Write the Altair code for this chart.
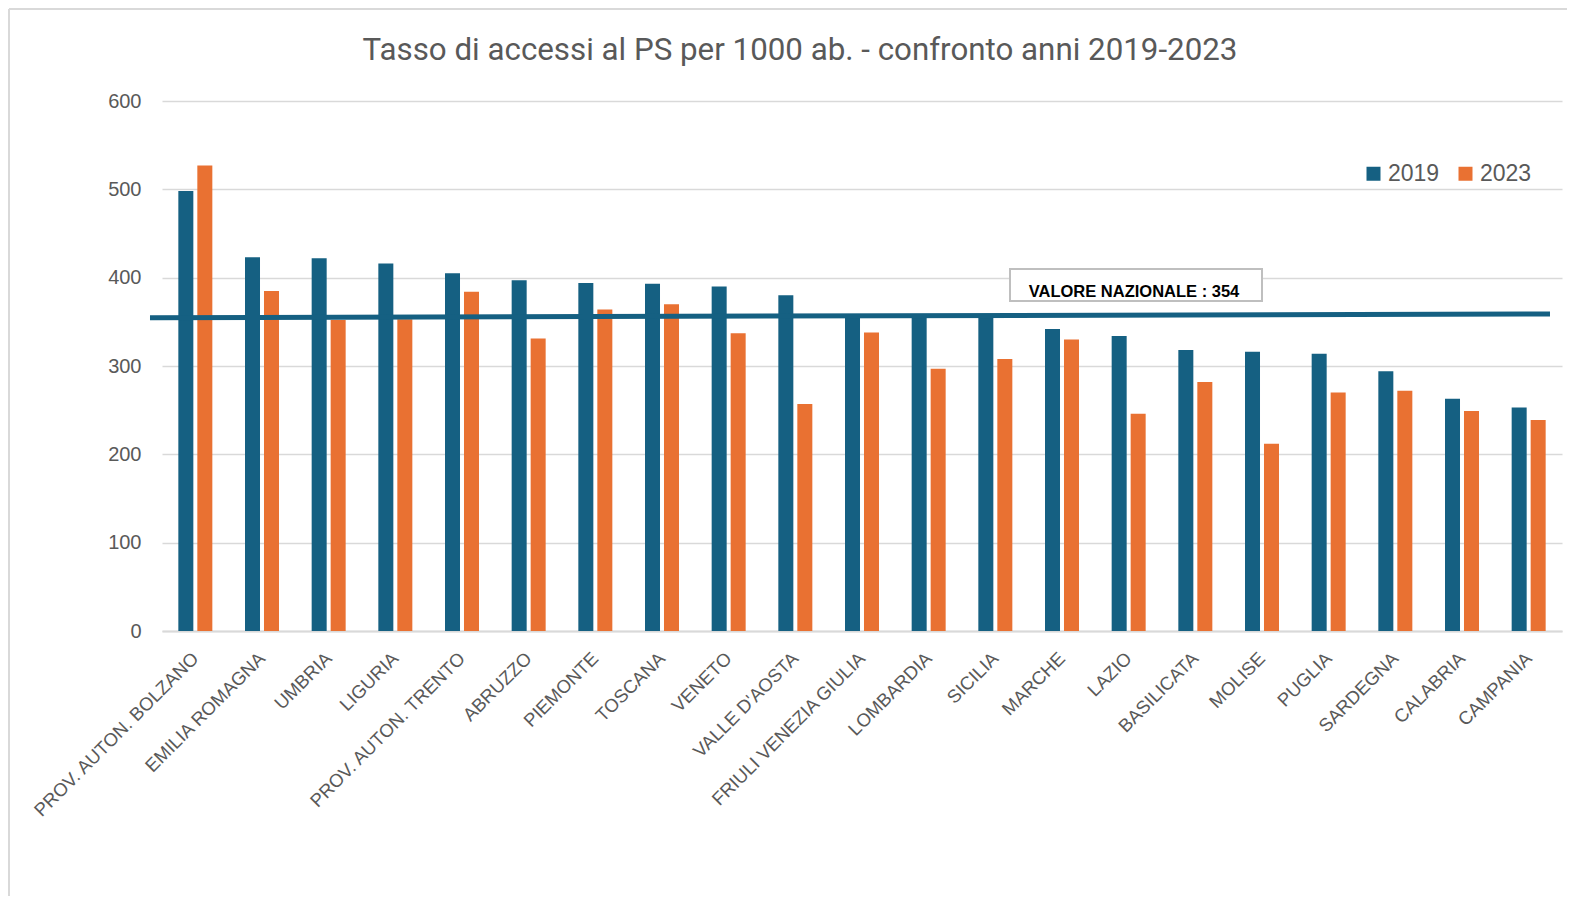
import altair as alt
import pandas as pd

regions = ["PROV. AUTON. BOLZANO", "EMILIA ROMAGNA", "UMBRIA", "LIGURIA",
           "PROV. AUTON. TRENTO", "ABRUZZO", "PIEMONTE", "TOSCANA", "VENETO",
           "VALLE D'AOSTA", "FRIULI VENEZIA GIULIA", "LOMBARDIA", "SICILIA",
           "MARCHE", "LAZIO", "BASILICATA", "MOLISE", "PUGLIA", "SARDEGNA",
           "CALABRIA", "CAMPANIA"]
v2019 = [498, 423, 422, 416, 405, 397, 394, 393, 390, 380, 356, 357, 357,
         342, 334, 318, 316, 314, 294, 263, 253]
v2023 = [527, 385, 352, 353, 384, 331, 364, 370, 337, 257, 338, 297, 308,
         330, 246, 282, 212, 270, 272, 249, 239]
years = ["2019", "2023"]
colors = ["#156082", "#E97132"]
national_start = 354.5
national_end = 359
national_label = "VALORE NAZIONALE : 354"
title_text = "Tasso di accessi al PS per 1000 ab. - confronto anni 2019-2023"

rows = []
for r, a, b in zip(regions, v2019, v2023):
    rows.append({"regione": r, "anno": years[0], "valore": a})
    rows.append({"regione": r, "anno": years[1], "valore": b})
df = pd.DataFrame(rows)

W, H = 1400, 530
grey = "#595959"
one = pd.DataFrame({"a": [0]})

yscale = alt.Scale(domain=[0, 600], nice=False)

bars = alt.Chart(df).mark_bar().encode(
    x=alt.X("regione:N", sort=regions, title=None,
            scale=alt.Scale(paddingInner=0, paddingOuter=0),
            axis=alt.Axis(labelAngle=315, labelAlign="right", labelBaseline="middle",
                          labelFontSize=18.5, labelFont="Liberation Sans", labelColor=grey,
                          labelPadding=24, labelLimit=400, ticks=False,
                          domainColor="#d9d9d9", domainWidth=2, grid=False)),
    xOffset=alt.XOffset("anno:N", scale=alt.Scale(paddingInner=0.21, paddingOuter=0.86)),
    y=alt.Y("valore:Q", scale=yscale, title=None,
            axis=alt.Axis(values=[0, 100, 200, 300, 400, 500, 600], labelFontSize=20,
                          labelFont="Liberation Sans", labelColor=grey, labelPadding=21,
                          ticks=False, domain=False, gridColor="#d9d9d9", gridWidth=1.5)),
    color=alt.Color("anno:N", scale=alt.Scale(domain=years, range=colors), title=None,
                    legend=alt.Legend(orient="none", legendX=1200, legendY=61,
                                      direction="horizontal", symbolType="square",
                                      symbolSize=196, symbolStrokeWidth=0,
                                      labelFontSize=23, labelFont="Liberation Sans",
                                      labelColor=grey, labelOffset=3, columnPadding=14,
                                      padding=0)),
)

national = alt.Chart(one).mark_rule(color="#156082", strokeWidth=5).encode(
    x=alt.value(-12), x2=alt.value(1388),
    y=alt.datum(national_start), y2=alt.datum(national_end),
)

box = alt.Chart(one).mark_rect(fill="white", stroke="#bfbfbf", strokeWidth=2).encode(
    x=alt.value(848), x2=alt.value(1100), y=alt.value(168), y2=alt.value(200),
)
box_text = alt.Chart(one).mark_text(
    text=national_label, font="Liberation Sans", fontWeight="bold",
    fontSize=16.5, color="black", align="center", baseline="alphabetic",
).encode(x=alt.value(972), y=alt.value(196))

title = alt.Chart(one).mark_text(
    text=title_text, font="Roboto", fontSize=31.3, color=grey,
    align="center", baseline="alphabetic",
).encode(x=alt.value(638), y=alt.value(-41))

frame_left = alt.Chart(one).mark_rule(color="#d9d9d9", strokeWidth=2).encode(
    x=alt.value(-153), y=alt.value(-92), y2=alt.value(795))
frame_top = alt.Chart(one).mark_rule(color="#d9d9d9", strokeWidth=2).encode(
    x=alt.value(-153), x2=alt.value(1405), y=alt.value(-92))

chart = alt.layer(frame_left, frame_top, bars, national, box, box_text, title).properties(
    width=W, height=H, padding=0
).configure_view(stroke=None)

chart.save("out.html", embed_options={"renderer": "svg", "actions": False})
